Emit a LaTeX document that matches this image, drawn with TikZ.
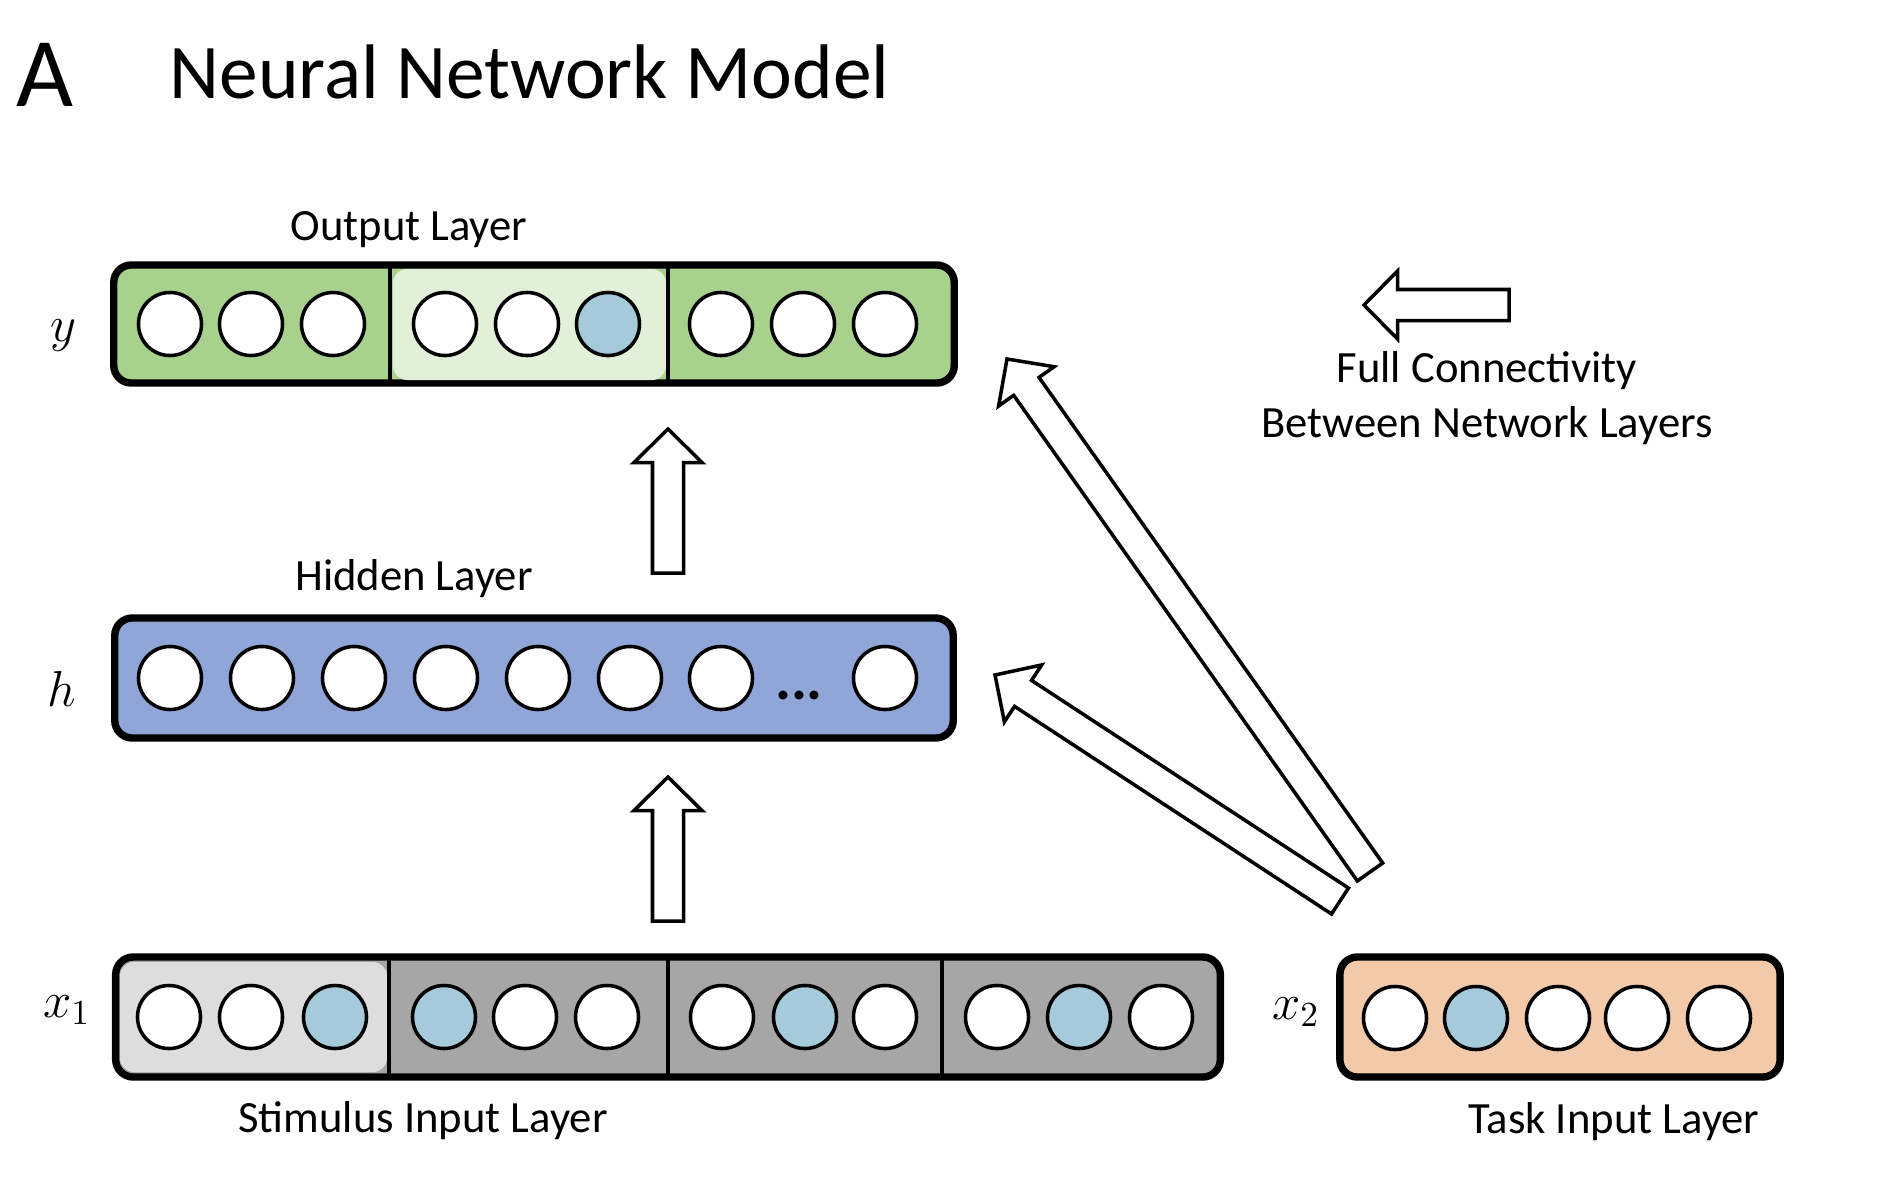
\documentclass[tikz,border=0pt]{standalone}
\usepackage{fontspec}
\setmainfont{Carlito}
\usepackage{amsmath}
\usepackage{xcolor}
\usepackage{tikz}
\usetikzlibrary{calc,positioning}
\definecolor{outgreen}{HTML}{A9D18E}
\definecolor{outlight}{HTML}{E2F0D9}
\definecolor{hidblue}{HTML}{90A6D8}
\definecolor{ingrey}{HTML}{A6A6A6}
\definecolor{inlight}{HTML}{DDDDDD}
\definecolor{taskpeach}{HTML}{F2C9A9}
\definecolor{unitblue}{HTML}{A5CBDA}
\tikzset{unit/.style={circle,draw,line width=1pt,fill=white,minimum size=6.3mm,inner sep=0pt},
         hot/.style={unit,fill=unitblue},
         layer/.style={draw,line width=2.1pt,rounded corners=5pt,inner sep=0pt},
         divider/.style={line width=0.9pt},
         lbl/.style={font=\fontsize{12.7}{15}\selectfont,anchor=base,inner sep=0pt},
         var/.style={font=\fontsize{14}{16}\selectfont,anchor=base,inner sep=0pt},
         fatline/.style={draw,line width=1pt,fill=white,line join=miter}}
% hollow block arrow from #1 to #2
\newcommand{\fatarrow}[2]{%
  \path ($(#2)!0.335cm!(#1)$) coordinate (hb);
  \draw[fatline] ($(#1)!0.155cm!90:(#2)$) -- ($(hb)!0.155cm!-90:(#1)$) -- ($(hb)!0.34cm!-90:(#1)$) -- (#2)
     -- ($(hb)!0.34cm!90:(#1)$) -- ($(hb)!0.155cm!90:(#1)$) -- ($(#1)!0.155cm!-90:(#2)$) -- cycle;}
\begin{document}
\begin{tikzpicture}[x=0.01cm,y=-0.01cm]
            \useasboundingbox (0,0) rectangle (1899,1184);
            \node[anchor=base west,inner sep=0pt,font=\fontsize{28}{30}\selectfont] (panel) at (16,106) {A};
            \node[anchor=base west,inner sep=0pt,font=\fontsize{22}{24}\selectfont] (title) at (169,98) {Neural Network Model};
            % output layer
            \node[lbl] (outlbl) at (409,240) {Output Layer};
            \node[layer,fill=outgreen,minimum width=8.40cm,minimum height=1.18cm] (out) at (534,324) {};
            \fill[outlight,rounded corners=4pt] (393,269) rectangle (666,380);
            \draw[divider] (390,265) -- (390,383);
            \draw[divider] (668,265) -- (668,383);
            \node[var] (yv) at (63,341) {$y$};
            \node[unit] (o1) at (170,324) {};
            \node[unit] (o2) at (251,324) {};
            \node[unit] (o3) at (333,324) {};
            \node[unit] (o4) at (445,324) {};
            \node[unit] (o5) at (527,324) {};
            \node[hot] (o6) at (608,324) {};
            \node[unit] (o7) at (721,324) {};
            \node[unit] (o8) at (803,324) {};
            \node[unit] (o9) at (885,324) {};
            % hidden layer
            \node[lbl] (hidlbl) at (414,590) {Hidden Layer};
            \node[layer,fill=hidblue,minimum width=8.38cm,minimum height=1.20cm] (hid) at (534,678) {};
            \node[var] (hv) at (62,706) {$h$};
            \node[unit] (h1) at (170,678) {};
            \node[unit] (h2) at (262,678) {};
            \node[unit] (h3) at (354,678) {};
            \node[unit] (h4) at (446,678) {};
            \node[unit] (h5) at (538,678) {};
            \node[unit] (h6) at (630,678) {};
            \node[unit] (h7) at (721,678) {};
            \node[anchor=base,inner sep=0pt,font=\fontsize{17}{17}\selectfont\bfseries] (hdots) at (799,699) {...};
            \node[unit] (h8) at (885,678) {};
            % stimulus input layer
            \node[layer,fill=ingrey,minimum width=11.04cm,minimum height=1.20cm] (stim) at (668,1017) {};
            \fill[inlight,rounded corners=4pt] (120,962) rectangle (387,1072);
            \draw[divider] (389,957) -- (389,1077);
            \draw[divider] (668,957) -- (668,1077);
            \draw[divider] (942,957) -- (942,1079);
            \node[var] (x1v) at (67,1017) {$x_1$};
            \node[lbl] (stimlbl) at (423,1132) {Stimulus Input Layer};
            \node[unit] (s1) at (169,1017) {};
            \node[unit] (s2) at (251,1017) {};
            \node[hot] (s3) at (335,1017) {};
            \node[hot] (s4) at (444,1017) {};
            \node[unit] (s5) at (525,1017) {};
            \node[unit] (s6) at (607,1017) {};
            \node[unit] (s7) at (722,1017) {};
            \node[hot] (s8) at (805,1017) {};
            \node[unit] (s9) at (885,1017) {};
            \node[unit] (s10) at (997,1017) {};
            \node[hot] (s11) at (1079,1017) {};
            \node[unit] (s12) at (1161,1017) {};
            % task input layer
            \node[layer,fill=taskpeach,minimum width=4.40cm,minimum height=1.20cm] (task) at (1560,1017) {};
            \node[var] (x2v) at (1296,1019) {$x_2$};
            \node[lbl] (tasklbl) at (1614,1133) {Task Input Layer};
            \node[unit] (t1) at (1395,1018) {};
            \node[hot] (t2) at (1476,1018) {};
            \node[unit] (t3) at (1558,1018) {};
            \node[unit] (t4) at (1637,1018) {};
            \node[unit] (t5) at (1719,1018) {};
            % block arrows
            \coordinate (sh0) at (668,921);
            \coordinate (sh1) at (668,777);
            \coordinate (ho0) at (668,573);
            \coordinate (ho1) at (668,429);
            \coordinate (th0) at (1340,901);
            \coordinate (th1) at (995,675);
            \coordinate (to0) at (1370,872);
            \coordinate (to1) at (1007,359);
            \coordinate (key0) at (1509,305);
            \coordinate (key1) at (1364,305);
            \fatarrow{sh0}{sh1}
            \fatarrow{ho0}{ho1}
            \fatarrow{th0}{th1}
            \fatarrow{to0}{to1}
            \fatarrow{key0}{key1}
            \node[lbl] (keylbl1) at (1487,382) {Full Connectivity};
            \node[lbl] (keylbl2) at (1487,437) {Between Network Layers};
\end{tikzpicture}
\end{document}
